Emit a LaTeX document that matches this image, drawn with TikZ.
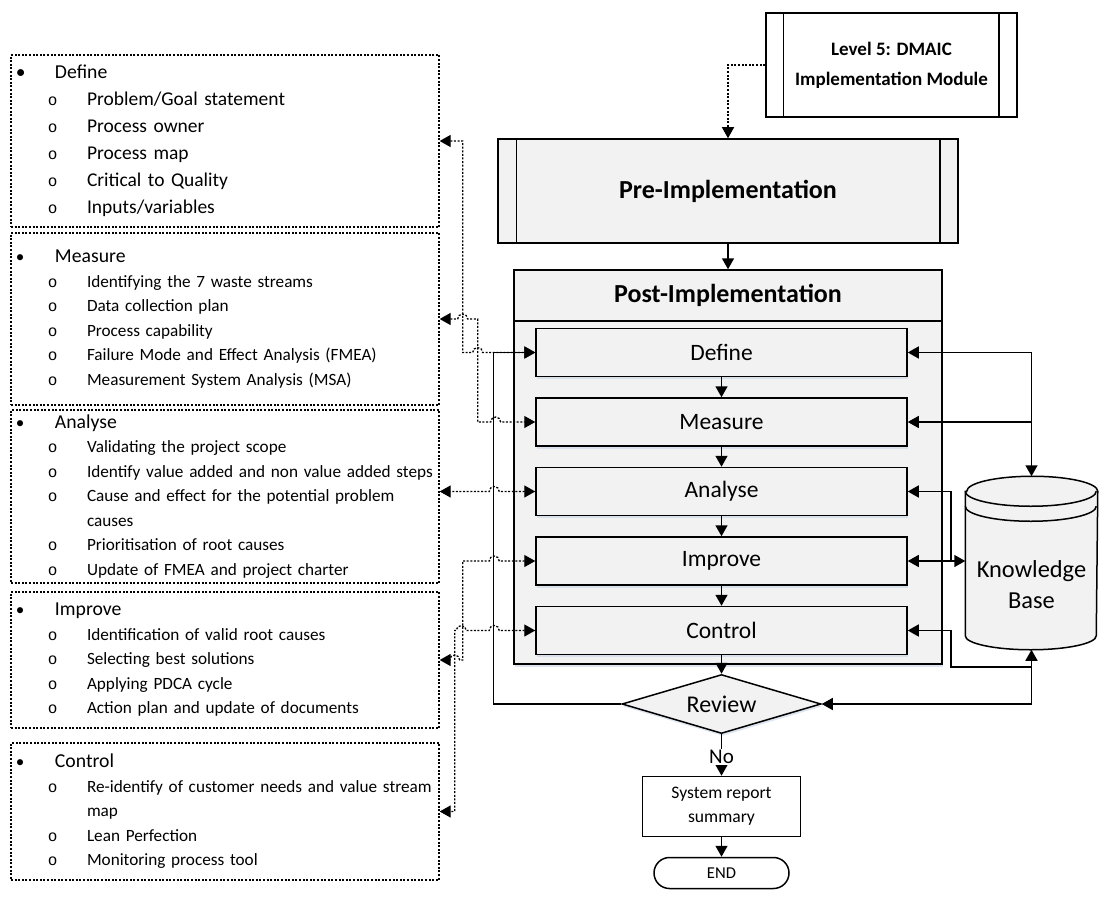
\documentclass[tikz,border=0pt]{standalone}
\usepackage{fontspec}
\setmainfont{Carlito}
\newfontfamily\monofont{Liberation Mono}
\usetikzlibrary{positioning,arrows.meta,shapes.geometric,shadows}

\definecolor{boxgray}{HTML}{F2F2F2}
\definecolor{glow}{HTML}{C8D4E6}

% list lines inside the dotted boxes
\newcommand\phasehead[1]{\makebox[39pt][l]{\textbullet}\mbox{\fontsize{19.7}{24}\selectfont #1}}
\newcommand\stepitem[1]{\hspace*{32pt}\makebox[39pt][l]{\fontsize{16}{16}\monofont o}\mbox{#1}}
\newcommand\wrapline[1]{\hspace*{71pt}\mbox{#1}}

\begin{document}
\begin{tikzpicture}[
    x=1pt, y=-1pt,
    font=\fontsize{17.2}{24.5}\selectfont,
    >={Triangle[length=11pt,width=12pt]},
    line width=1.5pt,
    node distance=20pt,
    listbox/.style ={draw, line width=1.3pt, dash pattern=on 2pt off 1.6pt,
                     minimum width=428pt, text width=418pt, inner xsep=5pt,
                     align=left},
    modbox/.style  ={draw, fill=white, minimum width=251pt, minimum height=104pt,
                     align=center, font=\bfseries\fontsize{19}{30}\selectfont},
    procbox/.style ={draw, fill=boxgray, minimum width=460pt, minimum height=104pt,
                     font=\bfseries\fontsize{26}{30}\selectfont},
    postbox/.style ={draw, fill=boxgray, minimum width=428pt, minimum height=394pt,
                     drop shadow={shadow xshift=1pt, shadow yshift=-2.5pt, fill=glow, opacity=.6}},
    titlebox/.style={draw, minimum width=428pt, minimum height=51pt,
                     font=\bfseries\fontsize{26}{30}\selectfont},
    stepbox/.style ={draw, fill=boxgray, minimum width=371pt, minimum height=48pt,
                     font=\fontsize{23.5}{28}\selectfont,
                     drop shadow={shadow xshift=1pt, shadow yshift=-2.5pt, fill=glow, opacity=.6}},
    decision/.style={diamond, aspect=3.4, draw, fill=boxgray, minimum width=199pt,
                     minimum height=59pt, inner sep=0pt, font=\fontsize{24}{28}\selectfont,
                     drop shadow={shadow xshift=1pt, shadow yshift=-2.5pt, fill=glow, opacity=.6}},
    repbox/.style  ={draw, minimum width=158pt, minimum height=60pt, align=center,
                     font=\fontsize{17.6}{24}\selectfont},
    terminal/.style={draw, rounded corners=15.5pt, minimum width=135pt, minimum height=31pt,
                     font=\fontsize{16.6}{20}\selectfont},
    arr/.style={->},
    dotarr/.style={<->, line width=1.3pt, dash pattern=on 2pt off 1.6pt},
]
\useasboundingbox (0,0) rectangle (1099,896);

% ---------------------------------------------------------
% Left column: DMAIC task lists
% ---------------------------------------------------------
\node[listbox, minimum height=172pt, font=\fontsize{19.5}{27}\selectfont] (listdef) at (225,141) {%
    \phasehead{Define}\\
    \stepitem{Problem/Goal statement}\\
    \stepitem{Process owner}\\
    \stepitem{Process map}\\
    \stepitem{Critical to Quality}\\
    \stepitem{Inputs/variables}};
\node[listbox, minimum height=172pt] (listmea) at (225,319) {%
    \phasehead{Measure}\\
    \stepitem{Identifying the 7 waste streams}\\
    \stepitem{Data collection plan}\\
    \stepitem{Process capability}\\
    \stepitem{Failure Mode and Effect Analysis (FMEA)}\\
    \stepitem{Measurement System Analysis (MSA)}};
\node[listbox, minimum height=173pt] (listana) at (225,496.5) {%
    \phasehead{Analyse}\\
    \stepitem{Validating the project scope}\\
    \stepitem{Identify value added and non value added steps}\\
    \stepitem{Cause and effect for the potential problem}\\
    \wrapline{causes}\\
    \stepitem{Prioritisation of root causes}\\
    \stepitem{Update of FMEA and project charter}};
\node[listbox, minimum height=136pt] (listimp) at (225,660) {%
    \phasehead{Improve}\\
    \stepitem{Identification of valid root causes}\\
    \stepitem{Selecting best solutions}\\
    \stepitem{Applying PDCA cycle}\\
    \stepitem{Action plan and update of documents}};
\node[listbox, minimum height=137pt] (listcon) at (225,811.5) {%
    \phasehead{Control}\\
    \stepitem{Re-identify of customer needs and value stream}\\
    \wrapline{map}\\
    \stepitem{Lean Perfection}\\
    \stepitem{Monitoring process tool}};

% ---------------------------------------------------------
% Right column: module, pre / post implementation
% ---------------------------------------------------------
\node[modbox] (lvl) at (891.5,65) {Level 5: DMAIC\\Implementation Module};
\draw ([xshift=18pt]lvl.north west) -- ([xshift=18pt]lvl.south west);
\draw ([xshift=-19pt]lvl.north east) -- ([xshift=-19pt]lvl.south east);

\node[procbox] (pre) at (728,191) {Pre-Implementation};
\draw ([xshift=19pt]pre.north west) -- ([xshift=19pt]pre.south west);
\draw ([xshift=-19pt]pre.north east) -- ([xshift=-19pt]pre.south east);

\node[postbox] (post) at (728,467) {};
\node[titlebox, anchor=north] (posttitle) at (post.north) {Post-Implementation};

\node[stepbox] (stepdef) at (721.5,352.5) {Define};
\node[stepbox, below=of stepdef] (stepmea) {Measure};
\node[stepbox, below=of stepmea] (stepana) {Analyse};
\node[stepbox, below=of stepana] (stepimp) {Improve};
\node[stepbox, below=of stepimp] (stepcon) {Control};

\node[decision, below=18.5pt of stepcon] (review) {Review};
\node[repbox, below=41.5pt of review] (report) {System report\\summary};
\node[terminal, below=19.5pt of report] (endnode) {END};

% knowledge base drum
\node[minimum width=131pt, minimum height=172pt, inner sep=0pt] (kb) at (1031.5,563) {};
\filldraw[fill=boxgray]
    ([yshift=-15pt]kb.north west) -- ([yshift=14pt]kb.south west)
    arc[start angle=180, end angle=360, x radius=65.5pt, y radius=14pt]
    -- ([yshift=-15pt]kb.north east)
    arc[start angle=0, end angle=180, x radius=65.5pt, y radius=15pt] -- cycle;
\draw ([yshift=-15pt]kb.north west)
    arc[start angle=180, end angle=360, x radius=65.5pt, y radius=15pt];
\draw ([yshift=-30pt]kb.north west)
    arc[start angle=180, end angle=360, x radius=65.5pt, y radius=15pt];
\node[align=center, font=\fontsize{24.4}{31}\selectfont] (kbtext)
    at ([yshift=-22pt]kb.center) {Knowledge\\Base};

% ---------------------------------------------------------
% Main flow
% ---------------------------------------------------------
\draw[arr, line width=1.3pt, dash pattern=on 2pt off 1.6pt] (lvl.west) -| (pre.north);
\draw[arr] (pre.south) -- (post.north);
\draw[arr] (stepdef) -- (stepmea);
\draw[arr] (stepmea) -- (stepana);
\draw[arr] (stepana) -- (stepimp);
\draw[arr] (stepimp) -- (stepcon);
\draw[arr] (stepcon) -- (review);
\draw[arr] (review) -- node[pos=.55, fill=white, inner sep=1pt,
    font=\fontsize{21}{24}\selectfont] {No} (report);
\draw[arr] (report) -- (endnode);

% review loops back to Define
\coordinate (loop) at ([xshift=-128pt]review.west);
\draw[arr] (review.west) -- (loop) |- (stepdef.west);

% ---------------------------------------------------------
% Knowledge base links
% ---------------------------------------------------------
\coordinate (kbtop) at (kb.north |- stepdef.east);
\draw[arr] (kbtop) -- (stepdef.east);
\draw[arr] (kbtop) -- (kb.north);
\draw[arr] (kb.north |- stepmea.east) -- (stepmea.east);
\draw[<->] (stepimp.east) -- (kb.west |- stepimp.east);
\draw[arr] ([xshift=43pt]stepimp.east) |- (stepana.east);
\coordinate (kbbot) at (kb.south |- review.east);
\draw[arr] (kbbot) -- (review.east);
\draw[arr] (kbbot) -- (kb.south);
\draw[arr] ([yshift=37pt]kbbot) -| ([xshift=43pt]stepcon.east) -- (stepcon.east);

% ---------------------------------------------------------
% Dotted links between lists and steps (with line hops)
% ---------------------------------------------------------
\coordinate (laneA) at ([xshift=23pt]listdef.east);
\coordinate (laneB) at ([xshift=38pt]listmea.east);
\coordinate (laneC) at ([xshift=15pt]listcon.east);

\draw[dotarr] (listdef.east) -- (laneA) -- (laneA |- stepdef.west) -- ++(10,0)
    arc[start angle=180, end angle=0, radius=5pt] -- (stepdef.west);
\draw[dotarr] (listmea.east) -- ++(18,0)
    arc[start angle=180, end angle=0, radius=5pt] -- (laneB)
    -- (laneB |- stepmea.west) -- ++(13,0)
    arc[start angle=180, end angle=0, radius=5pt] -- (stepmea.west);
\draw[dotarr] (stepana.west) -- ++(-36,0)
    arc[start angle=0, end angle=180, radius=5pt] -- (stepana.west -| listana.east);
\draw[dotarr] (stepimp.west) -- ++(-36,0)
    arc[start angle=0, end angle=180, radius=5pt] -- (laneA |- stepimp.west)
    -- (laneA |- listimp.east) -- ++(-3,0)
    arc[start angle=0, end angle=180, radius=5pt] -- (listimp.east);
\draw[dotarr] (stepcon.west) -- ++(-36,0)
    arc[start angle=0, end angle=180, radius=5pt] -- ++(-23,0)
    arc[start angle=0, end angle=180, radius=5pt] -- (laneC |- stepcon.west)
    -- (laneC) -- (listcon.east);

\end{tikzpicture}
\end{document}
